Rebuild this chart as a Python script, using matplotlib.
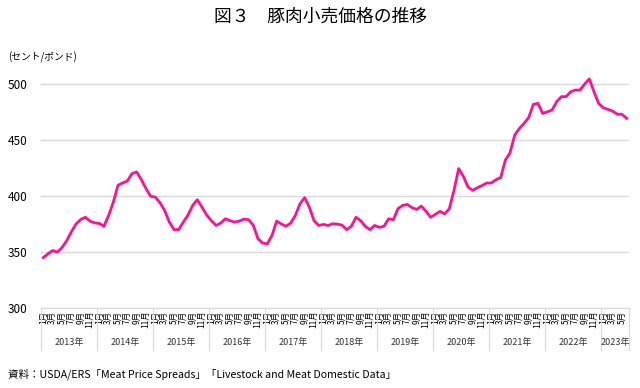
import matplotlib
matplotlib.use("Agg")
import matplotlib.pyplot as plt
import matplotlib.transforms as mtransforms

plt.rcParams["font.family"] = ["Noto Sans CJK JP", "DejaVu Sans"]

# monthly retail pork price, cents/pound, Jan 2013 - Jun 2023
years = ["2013年", "2014年", "2015年", "2016年", "2017年", "2018年",
         "2019年", "2020年", "2021年", "2022年", "2023年"]
months_per_year = [12, 12, 12, 12, 12, 12, 12, 12, 12, 12, 6]
price = [
    345.0, 348.4, 351.3, 350.0, 354.0, 360.0, 368.0, 375.0, 379.0, 381.0, 377.6, 376.0,
    375.5, 373.0, 382.7, 394.6, 409.6, 411.6, 413.4, 420.0, 421.5, 414.6, 406.6, 399.7,
    399.0, 394.0, 387.0, 376.7, 370.0, 370.0, 376.7, 383.0, 391.6, 396.7, 390.0, 383.0,
    378.0, 373.7, 375.8, 379.7, 378.0, 376.7, 377.6, 379.4, 378.8, 373.7, 361.8, 358.0,
    357.3, 364.8, 377.6, 375.0, 373.0, 375.8, 382.7, 393.1, 398.5, 390.0, 378.0, 373.7,
    374.6, 373.7, 375.2, 374.9, 374.0, 369.9, 373.0, 381.0, 378.0, 372.8, 370.0, 373.7,
    372.0, 373.0, 379.7, 378.8, 388.7, 391.6, 392.5, 389.6, 388.0, 391.0, 386.3, 381.0,
    383.6, 386.3, 384.0, 388.7, 405.0, 424.5, 417.6, 408.0, 405.0, 407.4, 409.3, 411.6,
    411.6, 414.6, 416.4, 432.0, 438.5, 454.3, 460.3, 464.8, 470.0, 481.8, 482.7, 473.7,
    475.2, 476.7, 484.2, 488.7, 488.7, 493.0, 494.6, 494.6, 500.0, 504.5, 493.0, 482.7,
    478.8, 477.3, 475.8, 473.0, 473.0, 469.3,
]

n = len(price)
month_labels = [f"{m + 1}月" for y in months_per_year for m in range(y)]

fig = plt.figure(figsize=(6.4, 3.88), dpi=100)
ax = fig.add_axes([41 / 640, 80 / 388, 588 / 640, 235.2 / 388])

ax.plot(range(n), price, color="#ff1090", linewidth=2.0, solid_joinstyle="round")

ax.set_xlim(-0.5, n - 0.5)
ax.set_ylim(300, 510)
ax.set_yticks([300, 350, 400, 450, 500])
ax.tick_params(axis="y", length=0, labelsize=8.5, pad=10)
ax.yaxis.grid(True, color="#d9d9d9", linewidth=1.0)
ax.set_axisbelow(True)
for s in ["top", "right", "left"]:
    ax.spines[s].set_visible(False)
ax.spines["bottom"].set_color("#d9d9d9")

tick_pos = [i for i in range(n) if i % 2 == 0]
ax.set_xticks(tick_pos)
ax.set_xticklabels([month_labels[i] for i in tick_pos], rotation=90, fontsize=6)
ax.tick_params(axis="x", length=0, pad=2)

# year group labels and separators
trans = mtransforms.blended_transform_factory(ax.transData, ax.transAxes)
start = 0
for yname, cnt in zip(years, months_per_year):
    ax.plot([start - 0.5, start - 0.5], [0, -0.18], transform=trans,
            color="#d9d9d9", linewidth=0.8, clip_on=False)
    ax.text(start + cnt / 2 - 0.5, -0.148, yname, transform=trans,
            ha="center", va="center", fontsize=6.5, color="#333333")
    start += cnt
ax.plot([start - 0.5, start - 0.5], [0, -0.18], transform=trans,
        color="#d9d9d9", linewidth=0.8, clip_on=False)

fig.text(0.5, 1 - 17 / 388, "図３　豚肉小売価格の推移", ha="center", va="center",
         fontsize=12.8)
fig.text(8 / 640, 1 - 57 / 388, "(セント/ポンド)", ha="left", va="center", fontsize=7)
fig.text(8 / 640, 1 - 374 / 388,
         "資料：USDA/ERS「Meat Price Spreads」「Livestock and Meat Domestic Data」",
         ha="left", va="center", fontsize=7.6)

fig.savefig("out.png", dpi=100)
